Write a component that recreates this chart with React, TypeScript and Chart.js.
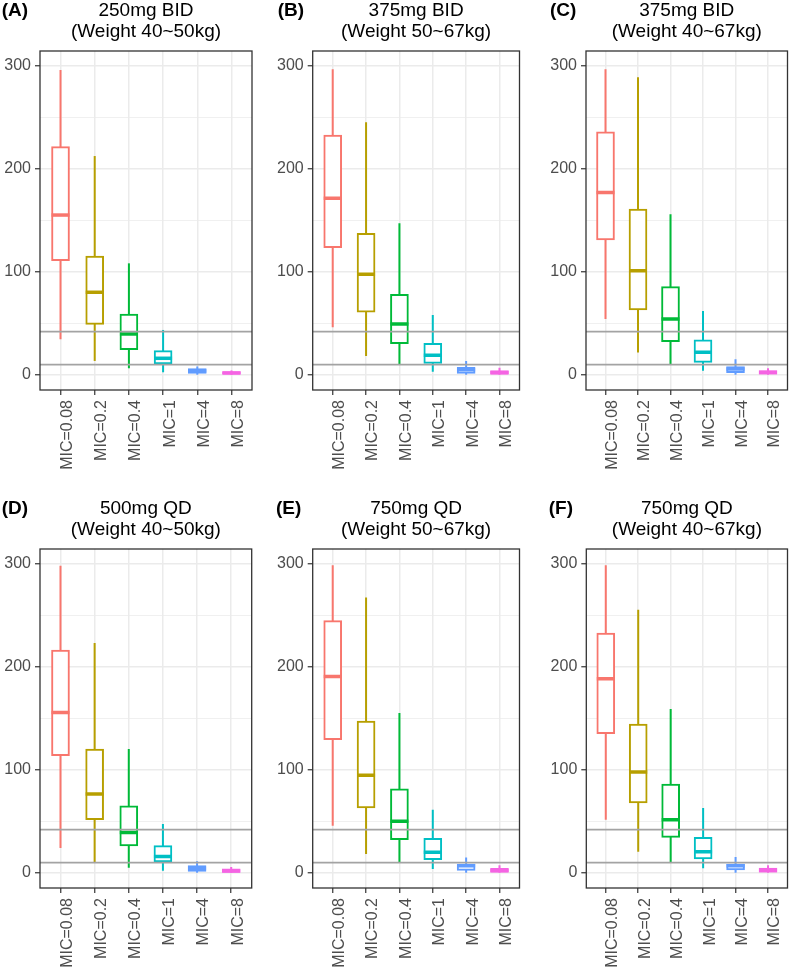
import React, { useEffect, useRef } from 'react';
import { Chart, registerables } from 'chart.js';

Chart.register(...registerables);

const categories = ['MIC=0.08', 'MIC=0.2', 'MIC=0.4', 'MIC=1', 'MIC=4', 'MIC=8'];
const boxColors = ['#F8766D', '#B79F00', '#00BA38', '#00BFC4', '#619CFF', '#F564E3'];
const yMajorTicks = [0, 100, 200, 300];
const yMinorTicks = [50, 150, 250];
const referenceLines = [42, 10];

// five-number summaries per category: [min, q1, median, q3, max]
const statsA = [
  [34.7, 111, 155.3, 221.7, 296.1],
  [13.6, 49.2, 80.3, 115.5, 212.6],
  [6.5, 24.6, 39.8, 59.2, 108.4],
  [2.6, 10.7, 16.2, 23.6, 43.7],
  [0.2, 1.4, 3.9, 6.1, 8.3],
  [0.1, 0.8, 1.9, 3.4, 4.4],
];
const statsB = [
  [46.3, 123.6, 171.5, 233, 296.8],
  [18.4, 60.9, 97.7, 137.6, 245.3],
  [10.4, 30.4, 49.5, 78.3, 147.3],
  [3.2, 11.3, 19.1, 30.7, 58.3],
  [0.1, 1.6, 5, 7.4, 13.6],
  [0.1, 0.8, 2.2, 4.2, 7],
];
const statsC = [
  [54.4, 131.1, 177.3, 236.2, 296.8],
  [21.7, 63.1, 101.3, 161.2, 289],
  [10.4, 32.4, 54.4, 85.8, 156],
  [4.2, 12.3, 22, 34, 62.1],
  [0.1, 2.3, 5.8, 8.1, 15.2],
  [0.1, 0.7, 2.3, 4.2, 6.5],
];
const statsD = [
  [24.3, 113.9, 155.9, 216.5, 298.3],
  [10.7, 51.7, 76.7, 120.4, 223.3],
  [5.1, 26.2, 39.4, 65.3, 120.4],
  [2.2, 10.7, 16.1, 26.5, 47.6],
  [0.1, 1.6, 4.5, 7.1, 11.3],
  [0.1, 0.5, 1.9, 3.9, 5.8],
];
const statsE = [
  [45.9, 129.4, 190.9, 245, 298.7],
  [18.4, 63.1, 94.8, 147.6, 267.6],
  [10.7, 32.3, 50.1, 81.8, 155.3],
  [3.9, 12.9, 20, 33.6, 61.5],
  [0.3, 2.5, 7.1, 8.7, 15.1],
  [0.1, 0.8, 2.2, 4.5, 7.4],
];
const statsF = [
  [51.7, 135.2, 188.6, 233, 298.7],
  [20.7, 67.9, 98, 144.6, 255.6],
  [10.7, 34.6, 51.7, 86.4, 159.2],
  [4.5, 13.6, 20.7, 34.6, 63.1],
  [0.3, 2.9, 7.1, 8.7, 15.5],
  [0.1, 0.8, 2.5, 4.8, 7.4],
];

const tags = ['(A)', '(B)', '(C)', '(D)', '(E)', '(F)'];
const titles = [
  ['250mg BID', '(Weight 40~50kg)'],
  ['375mg BID', '(Weight 50~67kg)'],
  ['375mg BID', '(Weight 40~67kg)'],
  ['500mg QD', '(Weight 40~50kg)'],
  ['750mg QD', '(Weight 50~67kg)'],
  ['750mg QD', '(Weight 40~67kg)'],
];
const allStats = [statsA, statsB, statsC, statsD, statsE, statsF];

// layout (pixels): canvas placement and plot area within canvas
const panelLayout = [
  { left: 0, top: 0, width: 266, height: 486, plotLeft: 40, plotRight: 252, tagX: 1.7 },
  { left: 266, top: 0, width: 266, height: 486, plotLeft: 46.7, plotRight: 258, tagX: 11.7 },
  { left: 532, top: 0, width: 268, height: 486, plotLeft: 54, plotRight: 266.7, tagX: 18 },
  { left: 0, top: 498, width: 266, height: 475, plotLeft: 40, plotRight: 251.7, tagX: 1.7 },
  { left: 266, top: 498, width: 266, height: 475, plotLeft: 46.7, plotRight: 258.3, tagX: 10 },
  { left: 532, top: 498, width: 268, height: 475, plotLeft: 54.3, plotRight: 266.7, tagX: 16.7 },
];

const FONT = "'Liberation Sans', Arial, Helvetica, sans-serif";
const X_MIN = -0.6;
const X_MAX = 5.6;
const Y_MIN = -14.6;
const Y_MAX = 314.6;
const PLOT_BOTTOM = 390;

const framePlugin = {
  id: 'frame',
  afterDatasetsDraw(chart: any) {
    const { ctx, chartArea: a } = chart;
    ctx.save();
    ctx.strokeStyle = '#333333';
    ctx.lineWidth = 1.3;
    ctx.strokeRect(a.left, a.top, a.right - a.left, a.bottom - a.top);
    ctx.restore();
  },
  afterDraw(chart: any, _args: any, opts: any) {
    const { ctx } = chart;
    ctx.save();
    ctx.font = `bold 19px ${FONT}`;
    ctx.fillStyle = '#000000';
    ctx.textAlign = 'left';
    ctx.textBaseline = 'middle';
    ctx.fillText(opts.tag, opts.tagX, 10.75);
    ctx.restore();
  },
};

function Panel({ index }: { index: number }) {
  const ref = useRef<HTMLCanvasElement>(null);
  const lay = panelLayout[index];
  const stats = allStats[index];

  useEffect(() => {
    if (!ref.current) return;
    const isMajor = (v: number) => yMajorTicks.includes(v);
    const chart = new Chart(ref.current, {
      type: 'bar',
      data: {
        datasets: [
          ...referenceLines.map((v) => ({
            type: 'line' as const,
            data: [
              { x: X_MIN, y: v },
              { x: X_MAX, y: v },
            ],
            borderColor: '#A3A3A3',
            borderWidth: 1.8,
            pointRadius: 0,
            order: 0,
          })),
          {
            type: 'scatter' as const,
            data: stats.map((s, i) => ({ x: i, y: s[2] })),
            pointStyle: 'line',
            pointRadius: 9,
            pointBorderWidth: 3.5,
            pointBorderColor: boxColors,
            order: 1,
          },
          {
            type: 'bar' as const,
            data: stats.map((s, i) => ({ x: i, y: [s[1], s[3]] })),
            backgroundColor: '#FFFFFF',
            borderColor: boxColors,
            borderWidth: 2,
            borderSkipped: false,
            barThickness: 18,
            grouped: false,
            order: 2,
          },
          {
            type: 'bar' as const,
            data: stats.map((s, i) => ({ x: i, y: [s[0], s[4]] })),
            backgroundColor: boxColors,
            borderWidth: 0,
            barThickness: 2,
            grouped: false,
            inflateAmount: 0,
            order: 3,
          },
        ] as any,
      },
      options: {
        animation: false,
        responsive: false,
        events: [],
        layout: { padding: { left: 0, right: lay.width - lay.plotRight, top: 0, bottom: 0 } },
        plugins: {
          legend: { display: false },
          tooltip: { enabled: false },
          title: {
            display: true,
            text: titles[index],
            fullSize: false,
            color: '#000000',
            font: { family: FONT, size: 19, weight: 'normal', lineHeight: 21.5 / 19 },
            padding: { top: 0, bottom: 8 },
          },
          frame: { tag: tags[index], tagX: lay.tagX },
        } as any,
        scales: {
          x: {
            type: 'linear',
            min: X_MIN,
            max: X_MAX,
            offset: false,
            afterBuildTicks: (s: any) => {
              s.ticks = categories.map((_, i) => ({ value: i }));
            },
            afterFit: (s: any) => {
              s.height = lay.height - PLOT_BOTTOM;
            },
            ticks: {
              autoSkip: false,
              minRotation: 90,
              maxRotation: 90,
              color: '#4D4D4D',
              font: { family: FONT, size: 16 },
              padding: 5,
              labelOffset: 7,
              callback: (v: any) => categories[v] ?? '',
            },
            grid: {
              offset: false,
              color: '#EBEBEB',
              lineWidth: 1.5,
              tickColor: '#333333',
              tickLength: 5,
              tickWidth: 1.2,
            },
            border: { display: false },
          },
          y: {
            type: 'linear',
            min: Y_MIN,
            max: Y_MAX,
            afterBuildTicks: (s: any) => {
              s.ticks = [...yMajorTicks, ...yMinorTicks].sort((a, b) => a - b).map((v) => ({ value: v }));
            },
            afterFit: (s: any) => {
              s.width = lay.plotLeft;
            },
            ticks: {
              color: '#4D4D4D',
              font: { family: FONT, size: 16 },
              padding: 4,
              callback: (v: any) => (isMajor(v) ? String(v) : ''),
            },
            grid: {
              color: '#EBEBEB',
              lineWidth: (c: any) => (c.tick && isMajor(c.tick.value) ? 1.5 : 0.75),
              tickColor: (c: any) => (c.tick && isMajor(c.tick.value) ? '#333333' : 'rgba(0,0,0,0)'),
              tickLength: 5,
              tickWidth: 1.2,
            },
            border: { display: false },
          },
        } as any,
      },
      plugins: [framePlugin],
    });
    return () => chart.destroy();
  }, [index]);

  return (
    <canvas
      ref={ref}
      width={lay.width}
      height={lay.height}
      style={{ position: 'absolute', left: lay.left, top: lay.top, width: lay.width, height: lay.height }}
    />
  );
}

export default function App() {
  return (
    <div style={{ position: 'absolute', left: 0, top: 0, width: 800, height: 973, background: '#FFFFFF' }}>
      {panelLayout.map((_, i) => (
        <Panel key={i} index={i} />
      ))}
    </div>
  );
}
